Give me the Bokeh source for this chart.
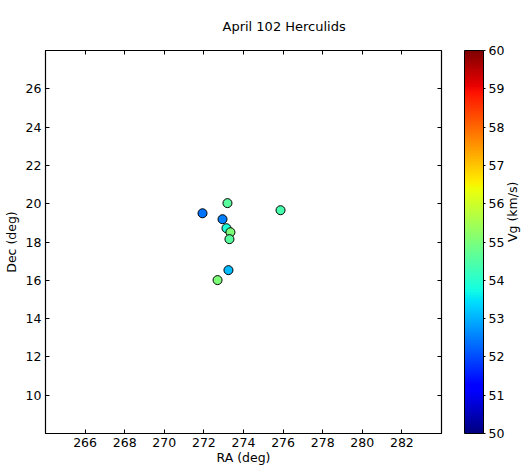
import numpy as np
from bokeh.plotting import figure
from bokeh.models import (ColumnDataSource, LinearColorMapper, ColorBar,
                          FixedTicker, LinearAxis, CustomLabelingPolicy)
from bokeh.embed import file_html
from bokeh.resources import INLINE

# ---- data ----
ra = [271.93, 273.19, 272.94, 273.14, 273.34, 273.29, 275.87, 273.24, 272.69]
dec = [19.50, 20.03, 19.19, 18.72, 18.51, 18.15, 19.66, 16.53, 16.01]
vg = [52.4, 54.6, 52.5, 53.9, 55.0, 54.6, 54.4, 53.1, 55.0]

x_ticks = [266, 268, 270, 272, 274, 276, 278, 280, 282]
y_ticks = [10, 12, 14, 16, 18, 20, 22, 24, 26]
cb_ticks = [50, 51, 52, 53, 54, 55, 56, 57, 58, 59, 60]
title_text = "April 102 Herculids"

FONT = "DejaVu Sans"
FS = "12.5px"


def jet_palette(n=256):
    t = np.linspace(0, 1, n)
    r = np.interp(t, [0, 0.35, 0.66, 0.89, 1], [0, 0, 1, 1, 0.5])
    g = np.interp(t, [0, 0.125, 0.375, 0.64, 0.91, 1], [0, 0, 1, 1, 0, 0])
    b = np.interp(t, [0, 0.11, 0.34, 0.65, 1], [0.5, 1, 1, 0, 0])
    return ["#%02x%02x%02x" % (int(round(a * 255)), int(round(c * 255)), int(round(d * 255)))
            for a, c, d in zip(r, g, b)]


mapper = LinearColorMapper(palette=jet_palette(), low=50, high=60)
src = ColumnDataSource(dict(ra=ra, dec=dec, vg=vg))

p = figure(frame_width=396, frame_height=383, x_range=(264, 284), y_range=(8, 28),
           output_backend="svg", toolbar_location=None,
           min_border_left=45, min_border_top=50, min_border_right=80, min_border_bottom=33,
           background_fill_color="white", border_fill_color="white")
p.xgrid.visible = False
p.ygrid.visible = False
p.outline_line_color = "black"
p.outline_line_width = 1.2

for ax, lab, ticks in ((p.xaxis[0], "RA (deg)", x_ticks), (p.yaxis[0], "Dec (deg)", y_ticks)):
    ax.ticker = FixedTicker(ticks=ticks)
    ax.axis_label = lab
    ax.major_tick_in = 4
    ax.major_tick_out = 0
    ax.minor_tick_line_color = None
    ax.axis_line_color = "black"
    ax.major_tick_line_color = "black"
    ax.major_label_text_font = FONT
    ax.major_label_text_font_size = FS
    ax.major_label_text_color = "black"
    ax.axis_label_text_font = FONT
    ax.axis_label_text_font_size = FS
    ax.axis_label_text_font_style = "normal"
    ax.axis_label_text_color = "black"
    ax.major_label_standoff = 4
p.xaxis[0].axis_label_standoff = 0
p.yaxis[0].axis_label_standoff = 4

no_labels = CustomLabelingPolicy(code="for (const i of indices) indices.unset(i); return indices")
for side, ticks in (("above", x_ticks), ("right", y_ticks)):
    ax = LinearAxis(ticker=FixedTicker(ticks=ticks), major_tick_in=4, major_tick_out=0,
                    minor_tick_line_color=None, major_label_policy=no_labels,
                    major_label_standoff=0, axis_line_color="black")
    if side == "above":
        ax.major_label_text_font_size = "1px"
    p.add_layout(ax, side)

cb = ColorBar(color_mapper=mapper, ticker=FixedTicker(ticks=cb_ticks), width=19, height=383,
              location=(8, 0), margin=0, padding=0,
              major_label_text_font=FONT, major_label_text_font_size=FS,
              major_label_text_color="black",
              major_tick_in=0, major_tick_out=2, major_tick_line_color="black",
              bar_line_color="black", label_standoff=3, background_fill_color=None)
p.add_layout(cb, "right")

lab_ax = LinearAxis(ticker=FixedTicker(ticks=[]), axis_line_color=None,
                    major_tick_line_color=None, minor_tick_line_color=None,
                    axis_label="Vg (km/s)",
                    axis_label_text_font=FONT, axis_label_text_font_size=FS,
                    axis_label_text_font_style="normal", axis_label_text_color="black",
                    axis_label_standoff=5, major_label_standoff=0,
                    axis_label_orientation=np.pi / 2)
p.add_layout(lab_ax, "right")

p.scatter("ra", "dec", source=src, size=9, line_color="black", line_width=1,
          fill_color={"field": "vg", "transform": mapper})

p.title.text = title_text
p.title.align = "left"
p.title.offset = 177
p.title.text_font = FONT
p.title.text_font_size = "13px"
p.title.text_font_style = "normal"
p.title.text_color = "black"
p.title.standoff = 26

open("out.html", "w").write(file_html(p, INLINE))
